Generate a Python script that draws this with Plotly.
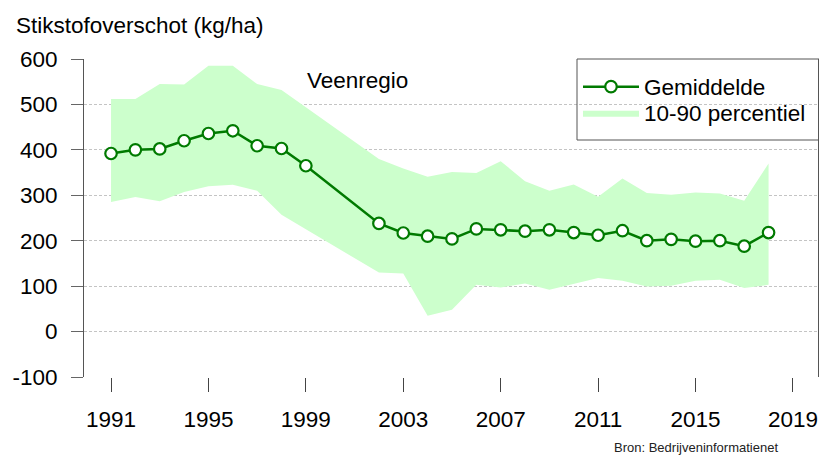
import plotly.graph_objects as go

years = [1991, 1992, 1993, 1994, 1995, 1996, 1997, 1998, 1999,
         2002, 2003, 2004, 2005, 2006, 2007, 2008, 2009, 2010,
         2011, 2012, 2013, 2014, 2015, 2016, 2017, 2018]
mean = [392, 400, 402, 420, 436, 442, 409, 403, 365,
        238, 217, 210, 204, 226, 224, 221, 224, 218,
        212, 222, 200, 203, 199, 200, 188, 218]
p90 = [512, 512, 545, 544, 585, 585, 545, 532, 494,
       380, 359, 341, 351, 349, 375, 331, 310, 324,
       297, 337, 305, 301, 306, 304, 288, 370]
p10 = [285, 296, 287, 307, 320, 323, 310, 257, 225,
       130, 128, 35, 48, 103, 97, 106, 92, 105,
       118, 112, 99, 101, 112, 114, 96, 103]
xticks = [1991, 1995, 1999, 2003, 2007, 2011, 2015, 2019]
yticks = [-100, 0, 100, 200, 300, 400, 500, 600]
ytick_labels = ["-100", "0", "100", "200", "300", "400", "500", "600"]

GREEN = "#007a00"
BAND = "#ccffcc"
FONT = "Liberation Sans"
FS = 22.5

W, H = 819, 456
L = 84
R = W - 818
T = 59
B = H - 377
pw = W - L - R
ph = H - T - B

def px(xr):
    return (xr - L) / pw

def py(yr):
    return (H - B - yr) / ph

fig = go.Figure()
fig.add_trace(go.Scatter(x=years, y=p10, mode="lines", line=dict(width=0),
                         showlegend=False, hoverinfo="skip"))
fig.add_trace(go.Scatter(x=years, y=p90, mode="lines", line=dict(width=0),
                         fill="tonexty", fillcolor=BAND, name="10-90 percentiel",
                         legend="legend2"))
fig.add_trace(go.Scatter(x=years, y=mean, mode="lines+markers", name="Gemiddelde",
                         line=dict(color=GREEN, width=2.5),
                         marker=dict(symbol="circle", size=11.5, color="white",
                                     line=dict(color=GREEN, width=2.2)),
                         legend="legend"))

leg_common = dict(xanchor="left", yanchor="middle", bgcolor="rgba(0,0,0,0)",
                  borderwidth=0, font=dict(family=FONT, size=FS),
                  itemwidth=56)

fig.update_layout(
    width=W, height=H,
    margin=dict(l=L, r=R, t=T, b=B, pad=0, autoexpand=False),
    paper_bgcolor="white", plot_bgcolor="white",
    font=dict(family=FONT, size=FS, color="black"),
    showlegend=True,
    legend=dict(x=px(578), y=py(87), **leg_common),
    legend2=dict(x=px(578), y=py(113), **leg_common),
    xaxis=dict(range=[1989.89, 2020.03], tickvals=xticks, ticks="outside",
               ticklen=14, tickcolor="#444", tickwidth=1, showgrid=False,
               showline=False, zeroline=False, ticklabelstandoff=8,
               automargin=False, tickfont=dict(family=FONT, size=FS)),
    yaxis=dict(range=[-100, 600], tickvals=yticks, ticktext=ytick_labels,
               ticks="outside",
               ticklen=12, tickcolor="#666", tickwidth=1, showgrid=True,
               gridcolor="#c4c4c4", griddash="3px,2px", gridwidth=1,
               showline=True, linecolor="#555", linewidth=1, mirror=True,
               zeroline=False, ticklabelstandoff=9, automargin=False,
               tickfont=dict(family=FONT, size=FS)),
    shapes=[dict(type="rect", xref="paper", yref="paper",
                 x0=px(577), x1=px(840), y0=py(140), y1=py(59),
                 line=dict(color="#555", width=1), fillcolor="rgba(0,0,0,0)")],
    annotations=[
        dict(text="Stikstofoverschot (kg/ha)", xref="paper", yref="paper",
             x=px(14), y=py(25), xanchor="left", yanchor="middle",
             showarrow=False, font=dict(family=FONT, size=FS)),
        dict(text="Veenregio", xref="paper", yref="paper",
             x=px(357), y=py(80), xanchor="center", yanchor="middle",
             showarrow=False, font=dict(family=FONT, size=FS)),
        dict(text="Bron: Bedrijveninformatienet", xref="paper", yref="paper",
             x=px(780), y=py(447), xanchor="right", yanchor="middle",
             showarrow=False,
             font=dict(family=FONT, size=13, color="#222")),
    ],
)

fig.write_html("out.html",
               config={"displayModeBar": False},
               post_script="document.body.style.margin='0';document.body.style.overflow='hidden';")
